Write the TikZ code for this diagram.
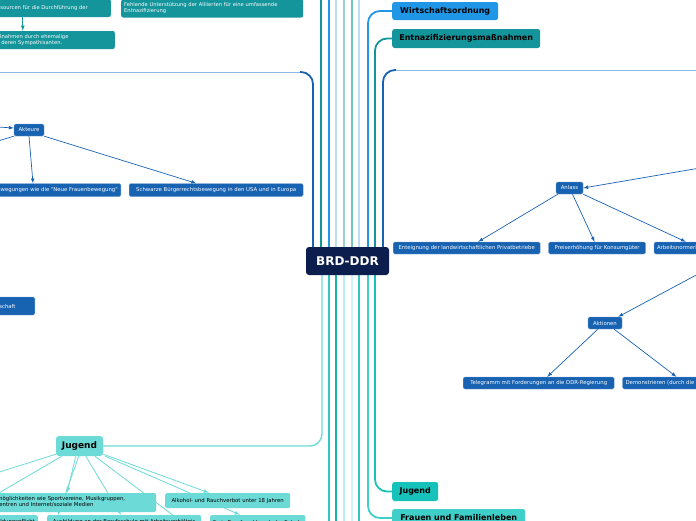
\documentclass[tikz,border=0pt]{standalone}
\usepackage{fontspec}
\setmainfont{DejaVu Sans}
\usepackage{tikz}
\usetikzlibrary{positioning}
\usetikzlibrary{arrows}
\usetikzlibrary{backgrounds}

\definecolor{brdnavy}{RGB}{12,30,78}
\definecolor{wirtblue}{RGB}{32,150,230}
\definecolor{entteal}{RGB}{20,148,155}
\definecolor{darkblue}{RGB}{24,98,178}
\definecolor{lineblue}{RGB}{140,185,230}
\definecolor{jugteal}{RGB}{22,194,186}
\definecolor{frauteal}{RGB}{64,206,200}
\definecolor{juglight}{RGB}{108,218,215}
\definecolor{paleblue}{RGB}{190,220,242}
\definecolor{palegreen}{RGB}{150,212,196}
\definecolor{greenteal}{RGB}{112,200,182}
\definecolor{palecyan}{RGB}{182,240,238}
\definecolor{palercyan}{RGB}{204,246,245}
\definecolor{midteal}{RGB}{20,180,172}
\definecolor{turq}{RGB}{50,198,192}

\begin{document}
\begin{tikzpicture}[x=1pt, y=-1pt, >=latex,
mainnode/.style={rectangle, fill=brdnavy, text=white, rounded corners=3pt, minimum width=83pt, minimum height=28pt, inner sep=0pt, font=\fontsize{12}{14}\selectfont\bfseries},
topicnode/.style={rectangle, rounded corners=2.5pt, minimum height=18pt, inner sep=0pt, font=\fontsize{8}{10}\selectfont\bfseries},
tealnode/.style={rectangle, fill=entteal, text=white, rounded corners=2pt, minimum height=18pt, inner xsep=3pt, inner ysep=0pt, align=left, font=\fontsize{5.2}{6}\selectfont},
bluenode/.style={rectangle, fill=darkblue, draw=darkblue!60!white, line width=0.4pt, text=white, rounded corners=1.5pt, minimum height=12pt, inner xsep=3pt, inner ysep=0pt, font=\fontsize{5.35}{6.2}\selectfont},
jugnode/.style={rectangle, fill=juglight, rounded corners=2pt, minimum height=14pt, inner xsep=3pt, inner ysep=0pt, font=\fontsize{5.35}{6}\selectfont},
branch/.style={line width=1.8pt, rounded corners=12pt},
blueline/.style={darkblue, line width=0.7pt},
jugline/.style={juglight, line width=0.8pt},
]
\useasboundingbox (0,0) rectangle (696,520);
\clip (0,0) rectangle (696,520);

%Nodes
\node[mainnode] (brd) at (347.5,261) {BRD-DDR};

\node[topicnode, fill=wirtblue, minimum width=106pt, anchor=west] (wirtschaft) at (392,11) {Wirtschaftsordnung};
\node[topicnode, fill=entteal, minimum width=148pt, minimum height=19pt, anchor=west] (entnazi) at (392,38.5) {Entnazifizierungsmaßnahmen};
\node[topicnode, fill=jugteal, minimum width=46pt, minimum height=19pt, anchor=west] (jugendR) at (392,491.5) {Jugend};
\node[topicnode, fill=frauteal, minimum width=133pt, anchor=west] (frauen) at (392,518) {Frauen und Familienleben};

\node[tealnode, anchor=east, text width=142pt] (ressourcen) at (111,8) {Fehlende Ressourcen für die Durchführung der};
\node[tealnode, anchor=west, text width=176pt] (alliierte) at (121,8.5) {Fehlende Unterstützung der Alliierten für eine umfassende\\Entnazifizierung};
\node[tealnode, anchor=east, text width=158pt] (sabotage) at (115,40) {Sabotage der Maßnahmen durch ehemalige\\NS-Anhänger und deren Sympathisanten.};

\node[bluenode, minimum width=30pt] (akteure) at (29,130) {Akteure};
\node[bluenode, anchor=east, minimum height=13pt] (frauenbewegung) at (121,190) {Frauenbewegungen wie die \textquotedbl Neue Frauenbewegung\textquotedbl};
\node[bluenode, minimum height=13pt, minimum width=174pt, right=8pt of frauenbewegung] (buergerrecht) {Schwarze Bürgerrechtsbewegung in den USA und in Europa};
\node[bluenode, anchor=east, text width=49pt, align=left, minimum height=18pt] (gesellschaft) at (35,306) {Gesellschaft};

\node[bluenode, minimum width=27pt] (anlass) at (569.5,188) {Anlass};
\node[bluenode, anchor=west, minimum width=147pt] (enteignung) at (393,248) {Enteignung der landwirtschaftlichen Privatbetriebe};
\node[bluenode, minimum width=97pt, right=8pt of enteignung] (preis) {Preiserhöhung für Konsumgüter};
\node[bluenode, right=8pt of preis] (normen) {Arbeitsnormerhöhung};

\node[bluenode, minimum width=34pt] (aktionen) at (605,323) {Aktionen};
\node[bluenode, anchor=west, minimum width=151pt] (telegramm) at (463,383) {Telegramm mit Forderungen an die DDR-Regierung};
\node[bluenode, right=8pt of telegramm] (demo) {Demonstrieren (durch die Straßen)};

\node[topicnode, fill=juglight, minimum width=47pt, minimum height=20pt, rounded corners=3pt, font=\fontsize{9}{11}\selectfont\bfseries] (jugendL) at (79.5,446) {Jugend};
\node[jugnode, anchor=west, text width=175pt, align=left, minimum height=19pt] (freizeit) at (-25,502.5) {Freizeitmöglichkeiten wie Sportvereine, Musikgruppen,\\Jugendzentren und Internet/soziale Medien};
\node[jugnode, anchor=west, minimum width=125pt, minimum height=15pt] (alkohol) at (165,500.5) {Alkohol- und Rauchverbot unter 18 Jahren};
\node[jugnode, anchor=east] (pflicht) at (38,522) {Berufsausbildungspflicht};
\node[jugnode, anchor=west, minimum width=154pt] (ausbildung) at (47,522) {Ausbildung an der Berufsschule mit Arbeitsverhältnis};
\node[jugnode, anchor=west, minimum width=93pt] (berufswahl) at (210,522) {Freie Berufswahl nach der Schule};

%Coordinates for branches leaving the picture
\coordinate (upA) at (321,-2);
\coordinate (upB) at (329,-2);
\coordinate (upC) at (336,-2);
\coordinate (upD) at (344,-2);
\coordinate (upE) at (352,-2);
\coordinate (upF) at (359,-2);
\coordinate (downA) at (329,522);
\coordinate (downB) at (336,522);
\coordinate (downC) at (344,522);
\coordinate (downD) at (352,522);
\coordinate (downE) at (359,522);
\coordinate (leftBend) at (300,72);
\coordinate (leftTop) at (-2,72);
\coordinate (rightBend) at (396,70);
\coordinate (rightTop) at (700,70);
\coordinate (akteureIn) at (-2,127);
\coordinate (akteureOut) at (-2,141);
\coordinate (anlassIn) at (700,168);
\coordinate (aktionenIn) at (700,273);
\coordinate (jugOut1) at (-2,472.5);
\coordinate (jugOut2) at (-2,493.5);
\coordinate (jugOut3) at (190,528);

%Lines
\begin{scope}[on background layer]
\draw[branch, entteal] (brd.north -| upA) -- (upA);
\draw[branch, wirtblue] (brd.north -| upB) -- (upB);
\draw[branch, paleblue] (brd.north -| upC) -- (upC);
\draw[branch, palegreen] (brd.north -| upD) -- (upD);
\draw[branch, greenteal] (brd.north -| upE) -- (upE);
\draw[branch, paleblue] (brd.north -| upF) -- (upF);
\draw[branch, darkblue] ([xshift=-34.5pt]brd.north) |- (leftBend);
\draw[lineblue, line width=1pt] (leftBend) -- (leftTop);
\draw[branch, wirtblue] ([xshift=20.5pt]brd.north) |- (wirtschaft.west);
\draw[branch, entteal] ([xshift=27.5pt]brd.north) |- (entnazi.west);
\draw[branch, darkblue] ([xshift=35.5pt]brd.north) |- (rightBend);
\draw[lineblue, line width=1pt] (rightBend) -- (rightTop);

\draw[branch, turq] (brd.south -| downA) -- (downA);
\draw[branch, midteal] (brd.south -| downB) -- (downB);
\draw[branch, palecyan] (brd.south -| downC) -- (downC);
\draw[branch, palercyan] (brd.south -| downD) -- (downD);
\draw[branch, turq] (brd.south -| downE) -- (downE);
\draw[branch, juglight, line width=1.4pt] ([xshift=-25.5pt]brd.south) |- (jugendL.east);
\draw[branch, frauteal] ([xshift=20.5pt]brd.south) |- (frauen.west);
\draw[branch, jugteal] ([xshift=27.5pt]brd.south) |- (jugendR.west);

\draw[->, shorten >=0pt, thick, entteal, line width=0.8pt] ([xshift=-14pt]ressourcen.south) -- ([xshift=-14pt]ressourcen.south |- sabotage.north);

\draw[blueline, ->] (akteureIn) -- ([yshift=2pt]akteure.west);
\draw[blueline] (akteure.south west) -- (akteureOut);
\draw[blueline, ->] (akteure.south) -- ([xshift=-88pt]frauenbewegung.north east);
\draw[blueline, ->] (akteure.south east) -- ([xshift=-20pt]buergerrecht.north);

\draw[blueline, ->] (anlassIn) -- (anlass.east);
\draw[blueline, ->] ([xshift=2pt]anlass.south west) -- ([xshift=11.5pt]enteignung.north);
\draw[blueline, ->] ([xshift=3pt]anlass.south) -- ([xshift=-2.5pt]preis.north);
\draw[blueline, ->] (anlass.south east) -- ([xshift=32pt]normen.north west);

\draw[blueline, ->] (aktionenIn) -- ([xshift=-4pt]aktionen.north east);
\draw[blueline, ->] ([xshift=10pt]aktionen.south west) -- ([xshift=8.5pt]telegramm.north);
\draw[blueline, ->] ([xshift=-8pt]aktionen.south east) -- ([xshift=54pt]demo.north west);

\draw[jugline] ([yshift=2pt]jugendL.south west) -- (jugOut1);
\draw[jugline] ([xshift=6pt]jugendL.south west) -- (jugOut2);
\draw[jugline, ->] ([xshift=20pt]jugendL.south west) -- ([xshift=92pt]freizeit.north west);
\draw[jugline, ->] ([xshift=23pt]jugendL.south west) -- ([xshift=11pt]ausbildung.north west);
\draw[jugline, ->] ([xshift=30pt]jugendL.south west) -- ([xshift=74pt]ausbildung.north west);
\draw[jugline] ([xshift=39pt]jugendL.south west) -- (jugOut3);
\draw[jugline, ->] ([yshift=2pt]jugendL.south east) -- ([xshift=44pt]alkohol.north west);
\draw[jugline, ->] ([xshift=2pt]jugendL.south east) -- ([xshift=30pt]berufswahl.north west);
\end{scope}
\end{tikzpicture}
\end{document}
